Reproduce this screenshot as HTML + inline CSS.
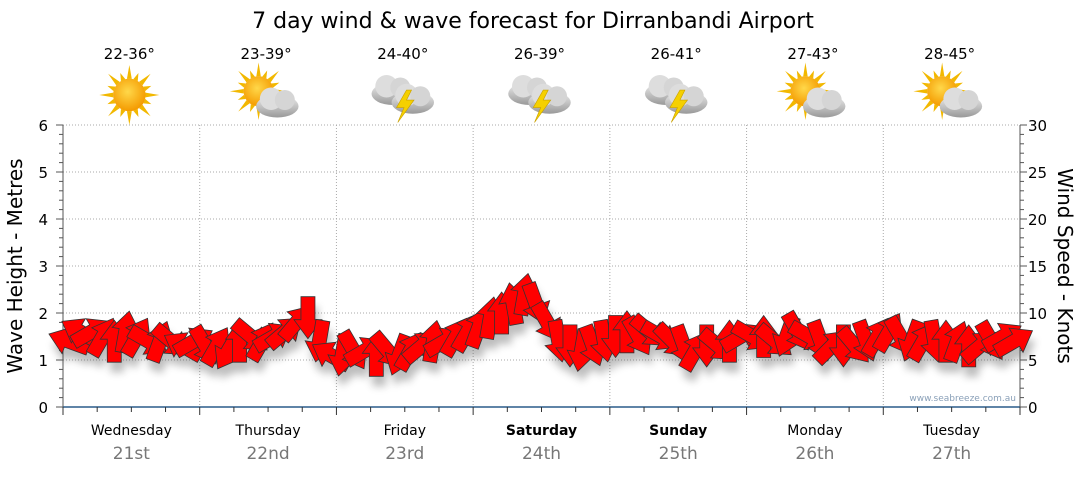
<!DOCTYPE html>
<html><head><meta charset="utf-8"><style>
body{margin:0;background:#fff;font-family:"Liberation Sans","DejaVu Sans",sans-serif}
svg text{font-family:"DejaVu Sans","Liberation Sans",sans-serif}
</style></head><body>
<svg id="c" width="1080" height="475" viewBox="0 0 1080 475" xmlns="http://www.w3.org/2000/svg">
<defs>
<filter id="sh" x="-50%" y="-50%" width="200%" height="200%"><feGaussianBlur stdDeviation="4"/></filter>
<radialGradient id="sun" cx="45%" cy="40%" r="60%"><stop offset="0" stop-color="#ffd84a"/><stop offset="1" stop-color="#f49a00"/></radialGradient>
<linearGradient id="cl" x1="0" y1="0" x2="0" y2="1"><stop offset="0" stop-color="#eee"/><stop offset="1" stop-color="#999"/></linearGradient>
</defs>
<text x="533" y="28" font-size="22" text-anchor="middle" fill="#000">7 day wind &amp; wave forecast for Dirranbandi Airport</text>
<g id="grid"></g><g id="axes"></g><g id="icons"></g><g id="shadows" filter="url(#sh)" opacity="0.35"></g><g id="arrows"></g>
<text x="1016" y="401" font-size="9" fill="#8aa0b8" text-anchor="end">www.seabreeze.com.au</text>
<text transform="translate(22,266) rotate(-90)" font-size="20" text-anchor="middle">Wave Height - Metres</text>
<text transform="translate(1058,266) rotate(90)" font-size="20" text-anchor="middle">Wind Speed - Knots</text>
</svg>
<script>
const days=["Wednesday","Thursday","Friday","Saturday","Sunday","Monday","Tuesday"];
const dates=["21st","22nd","23rd","24th","25th","26th","27th"];
const temps=["22-36°","23-39°","24-40°","26-39°","26-41°","27-43°","28-45°"];
const icons=["sun","partly","storm","storm","storm","partly","partly"];
const waveTicks=[0,1,2,3,4,5,6];
const windTicks=[0,5,10,15,20,25,30];
const windSpeed=[7,8,8,7.5,7,8,7.5,7,7,7,6.5,7,
6.5,6.5,6,7,7.5,7,7.5,8,9,9.5,7,5.5,
5.5,6,6,5.5,6,5.5,6,6.5,7,7,7.5,8,
8.5,9.5,10,11,12,11,9,7,6.5,6,6.5,7,
7.5,8,7.5,8,7.5,7,6.5,6,6.5,6.5,7,7.5,
7.5,7.5,7,7.5,8,7.5,7,6.5,6.5,6.5,7,7.5,
8,7.5,7,7,7,7,7,6.5,6.5,7,7.5,7];
const windDir=[200,-150,-30,-60,-90,-80,-60,30,-70,40,-150,-30,
60,-60,120,-90,40,-60,-30,-40,-50,90,100,-150,
100,60,-30,-90,50,110,-60,-40,-80,-30,-60,-60,
-70,-80,-90,-100,-80,70,60,80,90,100,70,80,
90,-90,60,40,30,45,70,-60,90,40,-90,-30,
30,-90,40,110,60,30,70,-45,90,50,70,-60,
-60,60,110,-60,80,-90,-70,-90,-40,60,-30,-30];
const X0=63,X1=1020,Y0=407,Y1=125;
const xT=h=>X0+h/168*(X1-X0);
const yW=m=>Y0-m/6*(Y0-Y1);
const yK=k=>Y0-k/30*(Y0-Y1);
const NS="http://www.w3.org/2000/svg";
function mk(p,t,a){const e=document.createElementNS(NS,t);for(const k in a)e.setAttribute(k,a[k]);document.getElementById(p).appendChild(e);return e;}
waveTicks.forEach(v=>{if(v>0){const g=mk("grid","line",{x1:X0,x2:X1,y1:yW(v),y2:yW(v),stroke:"#aaa","stroke-dasharray":"1,2"});

}
const t=mk("axes","text",{x:48,y:yW(v)+6,"font-size":15,"text-anchor":"end"});t.textContent=v;

});
windTicks.forEach(v=>{const t=mk("axes","text",{x:1028,y:yK(v)+6,"font-size":15});t.textContent=v;

});
for(let d=1;d<7;d++){const g=mk("grid","line",{x1:xT(d*24),x2:xT(d*24),y1:Y1,y2:Y0,stroke:"#aaa","stroke-dasharray":"1,2"});

}
for(let m=0;m<=30;m++){const y=Y0-m*(Y0-Y1)/30;const L=m%5==0?7:4;
mk("axes","line",{x1:X0-L,x2:X0,y1:y,y2:y,stroke:"#555"});mk("axes","line",{x1:X1,x2:X1+L,y1:y,y2:y,stroke:"#555"});}
mk("axes","line",{x1:X0,x2:X0,y1:Y1,y2:Y0,stroke:"#555"});
mk("axes","line",{x1:X1,x2:X1,y1:Y1,y2:Y0,stroke:"#555"});
const xa=mk("axes","line",{x1:X0,x2:X1,y1:Y0,y2:Y0,stroke:"#2a5c8a","stroke-width":1.5});


for(let h=0;h<=168;h+=6){mk("axes","line",{x1:xT(h),x2:xT(h),y1:Y0,y2:Y0+(h%24==0?8:5),stroke:"#333"});}
days.forEach((d,i)=>{const cx=xT(i*24+12);const b=(i==3||i==4);
const t=mk("axes","text",{x:cx,y:435,"font-size":14,"text-anchor":"middle","font-weight":b?"bold":"normal"});t.textContent=d;


const t2=mk("axes","text",{x:cx,y:459,"font-size":17,"text-anchor":"middle",fill:"#777"});t2.textContent=dates[i];


const t3=mk("icons","text",{x:cx-2,y:59,"font-size":15,"text-anchor":"middle"});t3.textContent=temps[i];


const g=mk("icons","g",{transform:`translate(${cx-2},95) scale(1.25)`});


const ic=icons[i];let s="";
const sun=(r)=>{let p="";for(let k=0;k<16;k++){const a=k*Math.PI/8,L=k%2?r+6:r+11;p+=`<polygon points="${Math.cos(a-0.15)*r},${Math.sin(a-0.15)*r} ${Math.cos(a)*L},${Math.sin(a)*L} ${Math.cos(a+0.15)*r},${Math.sin(a+0.15)*r}" fill="#f2b800"/>`;}return p+`<circle r="${r}" fill="url(#sun)"/>`;};
const cloud=(dx,dy)=>`<g transform="translate(${dx},${dy})"><ellipse cx="0" cy="4" rx="17" ry="9" fill="url(#cl)"/><circle cx="-5" cy="-2" r="9" fill="#ddd"/><circle cx="6" cy="-1" r="8" fill="#d5d5d5"/></g>`;
if(ic=="sun")s=sun(13);
else if(ic=="partly")s=`<g transform="translate(-6,-3)">${sun(12)}</g>`+cloud(9,5);
else s=cloud(-8,-5)+cloud(8,2)+`<polygon points="3,-4 -5,10 1,10 -4,22 9,4 3,4 7,-4" fill="#f5d000" stroke="#c9a000" stroke-width="0.5"/>`;
g.innerHTML=s;});
function arrowPts(){return "-21,-7 2,-7 2,-14 21,0 2,14 2,7 -21,7";}
windSpeed.forEach((k,i)=>{const h=i*2+1;const x=xT(h),y=yK(k);const a=windDir[i];
const sh=mk("shadows","polygon",{points:arrowPts(),transform:`translate(${x+3},${y+10}) rotate(${a})`,fill:"#444"});


const p=mk("arrows","polygon",{points:arrowPts(),transform:`translate(${x},${y}) rotate(${a})`,fill:"#ff0000",stroke:"#333","stroke-width":0.8});

});
</script>
</body></html>
